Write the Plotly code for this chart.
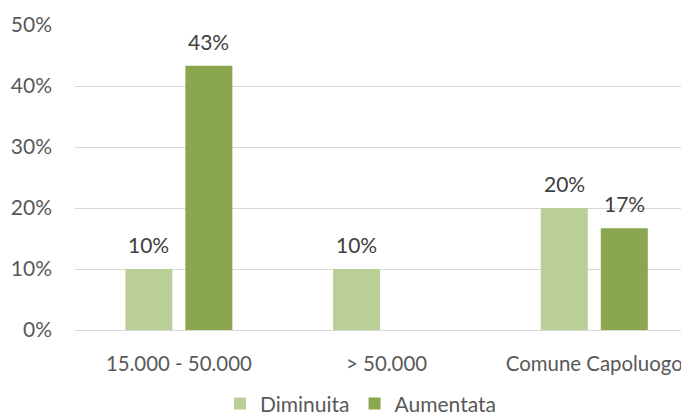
import plotly.graph_objects as go

categories = ["15.000 - 50.000", "> 50.000", "Comune Capoluogo"]
diminuita = [10.0, 10.0, 20.0]
aumentata = [43.3, None, 16.7]
y_ticks = [0, 10, 20, 30, 40, 50]
y_tick_labels = ["0%", "10%", "20%", "30%", "40%", "50%"]

FONT = "Lato, 'Open Sans', sans-serif"
FS = 21
# page body has an 8px default margin; the figure is sized to fill the rest
W, H = 681, 408
ML, MR, MT, MB = 67, 0, 17, 86
X_RANGE = [-0.5, 2.456]
BARGAP, GROUPGAP = 0.422, 0.217

series = [("Diminuita", diminuita, "#BACF97"), ("Aumentata", aumentata, "#8AA64E")]

fig = go.Figure()
for name, vals, col in series:
    fig.add_trace(go.Bar(name=name, x=categories, y=vals,
                         marker=dict(color=col, line=dict(width=0))))

# data labels as annotations centered over each bar of the group
px_per_cat = (W - ML - MR) / (X_RANGE[1] - X_RANGE[0])
slot_px = px_per_cat * (1 - BARGAP) / len(series)
for i, (name, vals, col) in enumerate(series):
    shift = (i - (len(series) - 1) / 2) * slot_px
    for c, v in zip(categories, vals):
        if v is None:
            continue
        fig.add_annotation(x=c, y=v, text=f"{round(v)}%", showarrow=False,
                           xshift=shift, yshift=10, yanchor="bottom",
                           font=dict(color="#404040", size=FS, family=FONT))

fig.update_layout(
    width=W, height=H,
    margin=dict(l=ML, r=MR, t=MT, b=MB, autoexpand=False),
    paper_bgcolor="white", plot_bgcolor="white",
    barmode="group", bargap=BARGAP, bargroupgap=GROUPGAP,
    font=dict(family=FONT, color="#595959", size=FS),
    showlegend=True,
    legend=dict(orientation="h", x=0.465, xanchor="center", y=-0.175, yanchor="top",
                font=dict(size=FS, color="#595959"), itemwidth=30,
                tracegroupgap=0),
    xaxis=dict(range=X_RANGE, showgrid=False, showline=False, zeroline=False,
               automargin=False,
               ticks="", ticklabelstandoff=20, tickfont=dict(size=20.4, color="#595959")),
    yaxis=dict(range=[0, 50], tickvals=y_ticks, ticktext=y_tick_labels,
               automargin=False,
               showgrid=True, gridcolor="#D9D9D9", gridwidth=1,
               zeroline=True, zerolinecolor="#D9D9D9", zerolinewidth=1,
               showline=False, ticks="", ticklabelstandoff=22,
               tickfont=dict(size=FS, color="#595959")),
)

fig.write_html("out.html")
